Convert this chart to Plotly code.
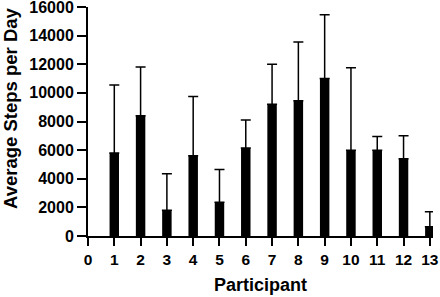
import plotly.graph_objects as go

participants = list(range(1, 14))
mean_steps = [5800, 8400, 1800, 5600, 2350, 6150, 9200, 9450, 11000, 6000, 6000, 5400, 650]
upper_err_top = [10550, 11800, 4350, 9750, 4650, 8100, 12000, 13550, 15450, 11750, 6950, 7000, 1700]
err_plus = [u - m for u, m in zip(upper_err_top, mean_steps)]

x_ticks = list(range(0, 14))
y_ticks = list(range(0, 16001, 2000))

FONT = "Liberation Sans"
L, R, T, B = 88, 7, 7, 61
W, H = 440, 297
PW, PH = W - L - R, H - T - B

fig = go.Figure()
fig.add_trace(go.Bar(
    x=participants, y=mean_steps, width=0.36,
    marker=dict(color="black", line=dict(width=0)),
    error_y=dict(type="data", array=err_plus, arrayminus=[0] * 13, symmetric=False,
                 color="black", thickness=1.5, width=5),
))

fig.update_layout(
    width=W, height=H,
    margin=dict(l=L, r=R, t=T, b=B, autoexpand=False),
    plot_bgcolor="white", paper_bgcolor="white",
    showlegend=False,
    font=dict(family=FONT, color="black"),
    annotations=[
        dict(text="<b>Average Steps per Day</b>", textangle=-90, showarrow=False,
             xref="paper", yref="paper", x=(10 - L) / PW, y=(T + PH - 108) / PH,
             xanchor="center", yanchor="middle", font=dict(size=18.5, family=FONT)),
        dict(text="<b>Participant</b>", showarrow=False,
             xref="paper", yref="paper", x=0.5, y=(T + PH - 285) / PH,
             xanchor="center", yanchor="middle", font=dict(size=18, family=FONT)),
    ],
)
fig.update_xaxes(
    range=[0, 13.12], tickmode="array", tickvals=x_ticks,
    ticktext=[f"<b>{v}</b>" for v in x_ticks],
    showline=True, linecolor="black", linewidth=2,
    ticks="outside", ticklen=8, tickwidth=2, tickcolor="black",
    showgrid=False, zeroline=False, automargin=False,
    ticklabeloverflow="allow",
    tickfont=dict(size=15.5, family=FONT),
)
fig.update_yaxes(
    range=[0, 16000], tickmode="array", tickvals=y_ticks,
    ticktext=[f"<b>{v}</b>" for v in y_ticks],
    showline=True, linecolor="black", linewidth=2,
    ticks="outside", ticklen=9, tickwidth=2, tickcolor="black",
    showgrid=False, zeroline=False, automargin=False,
    ticklabeloverflow="allow",
    tickfont=dict(size=16, family=FONT),
)

fig.write_html("out.html", config={"displayModeBar": False},
               post_script="document.body.style.margin='0';document.body.style.overflow='hidden';")
